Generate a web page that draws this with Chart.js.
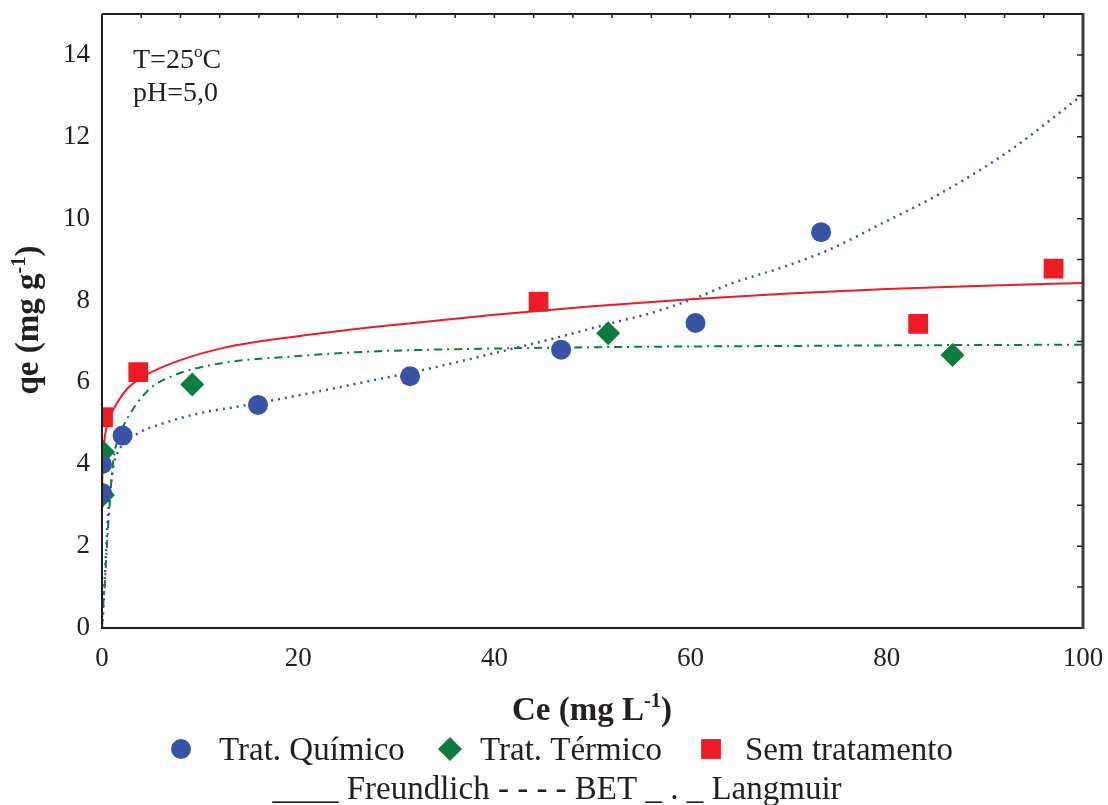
<!DOCTYPE html>
<html>
<head>
<meta charset="utf-8">
<script src="https://cdn.jsdelivr.net/npm/chart.js@4.4.1/dist/chart.umd.min.js"></script>
<style>
body { margin: 0; background: #fff; }
canvas { display: block; }
</style>
</head>
<body>
<canvas id="chart" width="1108" height="805"></canvas>
<script>
// measured points
var quimicoCe = [0, 0, 2.1, 15.9, 31.4, 46.8, 60.5, 73.3];
var quimicoQe = [3.3, 4.0, 4.7, 5.45, 6.15, 6.8, 7.45, 9.67];
var termicoCe = [0.1, 0.1, 9.2, 51.6, 86.7];
var termicoQe = [3.25, 4.3, 5.95, 7.2, 6.67];
var semCe = [0.1, 3.7, 44.5, 83.2, 97.0];
var semQe = [5.15, 6.25, 7.97, 7.43, 8.78];

// fitted isotherms
var freundlichCe = [0, 0.001, 0.01, 0.05, 0.1, 0.3, 0.8, 1.3, 2.6, 4.4, 7.7, 12.5, 20, 30, 40, 50, 60, 70, 80, 90, 100];
var freundlichQe = [0, 2.6, 3.3, 3.9, 4.2, 4.7, 5.15, 5.4, 5.85, 6.17, 6.52, 6.85, 7.13, 7.41, 7.65, 7.86, 8.03, 8.17, 8.28, 8.36, 8.43];
var betCe = [0, 0.1, 0.24, 0.41, 0.58, 0.82, 1.15, 1.83, 3.7, 6, 10, 13.4, 20.2, 27, 33.4, 40.6, 46, 51.8, 55.9, 60.6, 64.3, 69.1, 74.2, 79.8, 84.2, 88.5, 92.8, 99.4, 100];
var betQe = [0, 0.35, 1.0, 1.83, 2.64, 3.29, 3.94, 4.39, 4.76, 4.98, 5.25, 5.39, 5.69, 6.02, 6.34, 6.75, 7.07, 7.44, 7.69, 8.07, 8.43, 8.79, 9.25, 9.92, 10.45, 11.04, 11.71, 12.92, 13.03];
var langmuirCe = [0, 0.1, 0.31, 0.5, 0.8, 1.15, 1.8, 2.68, 4.72, 7.44, 12.2, 19.2, 27, 40.6, 55, 70, 85, 100];
var langmuirQe = [0, 0.45, 1.17, 2.0, 3.1, 4.1, 4.7, 5.16, 5.81, 6.18, 6.47, 6.63, 6.75, 6.83, 6.87, 6.89, 6.91, 6.92];

var xTickValues = [0, 20, 40, 60, 80, 100];
var yTickValues = [0, 2, 4, 6, 8, 10, 12, 14];

var blue = '#3953a4';
var green = '#0b7d3e';
var red = '#ed1c24';
var ink = '#231f20';
var serif = '"Liberation Serif", "Times New Roman", serif';

function pts(xs, ys) {
    return xs.map(function (x, i) { return {x: x, y: ys[i]}; });
}

// text with superscript pieces: [['T=25'], ['o', true], ['C']]
function drawRich(ctx, parts, x, y, size, weight, align) {
    var w = 0;
    parts.forEach(function (p) {
        ctx.font = weight + ' ' + (p[1] ? size * 0.62 : size) + 'px ' + serif;
        w += ctx.measureText(p[0]).width;
    });
    var cx = align === 'center' ? x - w / 2 : x;
    ctx.textAlign = 'left';
    ctx.textBaseline = 'alphabetic';
    parts.forEach(function (p) {
        ctx.font = weight + ' ' + (p[1] ? size * 0.62 : size) + 'px ' + serif;
        ctx.fillText(p[0], cx, p[1] ? y - size * 0.4 : y);
        cx += ctx.measureText(p[0]).width;
    });
}

var frame = {
    id: 'frame',
    afterDraw: function (chart) {
        var ctx = chart.ctx;
        var a = chart.chartArea;
        var xs = chart.scales.x;
        var ys = chart.scales.y;
        ctx.save();
        ctx.strokeStyle = ink;
        ctx.lineWidth = 2;
        ctx.beginPath();
        ctx.moveTo(a.left, a.top);
        ctx.lineTo(a.left, a.bottom);
        ctx.lineTo(a.right, a.bottom);
        ctx.moveTo(a.left, a.top);
        ctx.lineTo(a.right, a.top);
        ctx.stroke();
        ctx.strokeStyle = '#3d3d3d';
        ctx.lineWidth = 3;
        ctx.beginPath();
        ctx.moveTo(a.right, a.top - 1);
        ctx.lineTo(a.right, a.bottom + 1);
        ctx.stroke();

        // inner ticks on top and right
        ctx.lineWidth = 1.5;
        ctx.strokeStyle = ink;
        ctx.beginPath();
        for (var v = 4; v < 100; v += 4) {
            var px = xs.getPixelForValue(v);
            ctx.moveTo(px, a.top);
            ctx.lineTo(px, a.top + 4);
        }
        for (var q = 1; q < 15; q++) {
            var py = ys.getPixelForValue(q);
            ctx.moveTo(a.right, py);
            ctx.lineTo(a.right - 6, py);
        }
        ctx.stroke();

        ctx.fillStyle = ink;
        drawRich(ctx, [['T=25'], ['o', true], ['C']], 133, 68, 28, 'normal', 'left');
        drawRich(ctx, [['pH=5,0']], 133, 101, 28, 'normal', 'left');

        drawRich(ctx, [['Ce (mg L'], ['-1', true], [')']], 592, 720, 33, 'bold', 'center');
        ctx.save();
        ctx.translate(38, 320);
        ctx.rotate(-Math.PI / 2);
        drawRich(ctx, [['qe (mg g'], ['-1', true], [')']], 0, 0, 33, 'bold', 'center');
        ctx.restore();

        // legend
        var marks = [
            {style: 'circle', r: 10, color: blue, x: 181, tx: 219, label: 'Trat. Químico'},
            {style: 'rectRot', r: 12, color: green, x: 450, tx: 480, label: 'Trat. Térmico'},
            {style: 'rect', r: 14, color: red, x: 711, tx: 745, label: 'Sem tratamento'}
        ];
        marks.forEach(function (m) {
            ctx.fillStyle = m.color;
            Chart.helpers.drawPoint(ctx, {pointStyle: m.style, radius: m.r, rotation: 0, borderWidth: 0}, m.x, 749);
            ctx.fillStyle = ink;
            drawRich(ctx, [[m.label]], m.tx, 760, 33, 'normal', 'left');
        });
        drawRich(ctx, [['____ Freundlich - - - - BET _ . _ Langmuir']], 557, 799, 33, 'normal', 'center');
        ctx.restore();
    }
};

var ctx = document.getElementById('chart').getContext('2d');
var chart = new Chart(ctx, {
    type: 'scatter',
    data: {
        datasets: [{
            label: 'Trat. Químico',
            data: pts(quimicoCe, quimicoQe),
            pointStyle: 'circle',
            pointRadius: 10,
            backgroundColor: blue,
            pointBorderWidth: 0,
            clip: 0
        }, {
            label: 'Trat. Térmico',
            data: pts(termicoCe, termicoQe),
            pointStyle: 'rectRot',
            pointRadius: 12,
            backgroundColor: green,
            pointBorderWidth: 0,
            clip: 0
        }, {
            label: 'Sem tratamento',
            data: pts(semCe, semQe),
            pointStyle: 'rect',
            pointRadius: 14,
            backgroundColor: red,
            pointBorderWidth: 0,
            clip: 0
        }, {
            label: 'Freundlich',
            data: pts(freundlichCe, freundlichQe),
            showLine: true,
            pointRadius: 0,
            borderColor: red,
            borderWidth: 2,
            cubicInterpolationMode: 'monotone',
            clip: 0
        }, {
            label: 'BET',
            data: pts(betCe, betQe),
            showLine: true,
            pointRadius: 0,
            borderColor: blue,
            borderWidth: 2.5,
            borderDash: [2, 5],
            cubicInterpolationMode: 'monotone',
            clip: 0
        }, {
            label: 'Langmuir',
            data: pts(langmuirCe, langmuirQe),
            showLine: true,
            pointRadius: 0,
            borderColor: green,
            borderWidth: 2,
            borderDash: [8, 5, 2, 5],
            cubicInterpolationMode: 'monotone',
            clip: 0
        }]
    },
    options: {
        responsive: false,
        devicePixelRatio: 1,
        animation: false,
        events: [],
        layout: {padding: {top: 14, right: 25, bottom: 0, left: 0}},
        plugins: {legend: {display: false}, tooltip: {enabled: false}},
        scales: {
            x: {
                type: 'linear',
                min: 0,
                max: 100,
                grid: {display: false, drawTicks: false},
                border: {display: false},
                ticks: {color: ink, padding: 17, font: {family: serif, size: 27, lineHeight: 1}},
                afterBuildTicks: function (s) { s.ticks = xTickValues.map(function (v) { return {value: v}; }); },
                afterFit: function (s) {
                    s.height = 177;
                    s.paddingLeft = 0;
                    s.paddingRight = 0;
                }
            },
            y: {
                type: 'linear',
                min: 0,
                max: 15,
                grid: {display: false, drawTicks: false},
                border: {display: false},
                ticks: {color: ink, padding: 12, font: {family: serif, size: 27, lineHeight: 1}},
                afterBuildTicks: function (s) { s.ticks = yTickValues.map(function (v) { return {value: v}; }); },
                afterFit: function (s) {
                    s.width = 102;
                    s.paddingTop = 0;
                    s.paddingBottom = 0;
                }
            }
        }
    },
    plugins: [frame]
});
</script>
</body>
</html>
